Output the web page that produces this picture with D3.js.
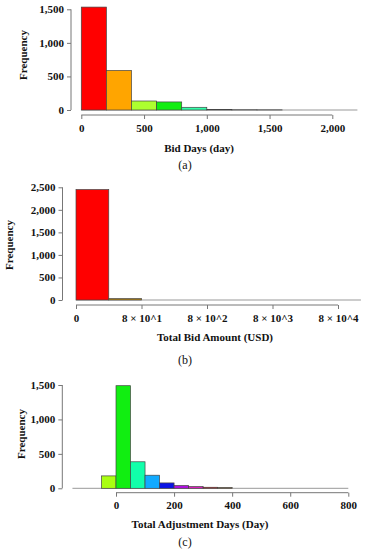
<!DOCTYPE html>
<html><head><meta charset="utf-8">
<script src="https://cdn.jsdelivr.net/npm/d3@7"></script>
<style>body{margin:0;background:#fff}svg{display:block}</style>
</head><body>
<script>
// ---- Data ----
// (a) Bid Days histogram, bin width 200
const aEdges = [0,200,400,600,800,1000,1200,1400,1600,1800,2000,2200];
const aCounts = [1533,589,134,120,40,8,3,2,0,0,0];
const aColors = ["#FF0000","#FFA500","#ADFF2F","#11EE11","#33FFAA","#1F7090","#555555","#555555","#AAAAAA","#AAAAAA","#AAAAAA"];
const aXTicks = [0,500,1000,1500,2000];
const aYTicks = [0,500,1000,1500];

// (b) Total Bid Amount histogram (decade-index axis)
const bEdges = [0,0.5,1,1.5,2,2.5,3,3.5,4,4.35];
const bCounts = [2450,30,0,0,0,0,0,0,0];
const bColors = ["#FF0000","#B8860B","#AAAAAA","#AAAAAA","#AAAAAA","#AAAAAA","#AAAAAA","#AAAAAA","#AAAAAA"];
const bXTicks = [0,1,2,3,4];
const bXLabels = ["0","8 \u00d7 10^1","8 \u00d7 10^2","8 \u00d7 10^3","8 \u00d7 10^4"];
const bYTicks = [0,500,1000,1500,2000,2500];

// (c) Total Adjustment Days histogram, bin width 50
const cEdges = [-150,-100,-50,0,50,100,150,200,250,300,350,400,450,500,550,600,650,700,750,800];
const cCounts = [0,0,180,1490,385,190,78,40,25,15,10,0,0,0,0,0,0,0,0];
const cColors = ["#AAAAAA","#AAAAAA","#AAFF11","#11EE11","#11FFAA","#11AAFF","#0A14E6","#B010E0","#E020C0","#E01010","#C08020","#AAAAAA","#AAAAAA","#AAAAAA","#AAAAAA","#AAAAAA","#AAAAAA","#AAAAAA","#AAAAAA"];
const cXTicks = [0,200,400,600,800];
const cYTicks = [0,500,1000,1500];

const svg = d3.select("body").append("svg").attr("width",370).attr("height",550);
const FONT = "'Liberation Serif','Times New Roman',serif";
const fmt = d3.format(",");

function panel(o){
  const g = svg.append("g");
  const x = d3.scaleLinear().domain(o.xDom).range(o.xRange);
  const y = d3.scaleLinear().domain(o.yDom).range(o.yRange);
  const bins = o.counts.map((c,i)=>({x0:o.edges[i],x1:o.edges[i+1],c,col:o.colors[i]}));
  // baseline
  g.append("line").attr("x1",x(o.edges[0])).attr("x2",x(o.edges[o.edges.length-1]))
    .attr("y1",y(0)).attr("y2",y(0)).attr("stroke","#999").attr("stroke-width",1);
  g.selectAll("rect.bar").data(bins.filter(d=>d.c>0)).join("rect").attr("class","bar")
    .attr("x",d=>x(d.x0)).attr("width",d=>x(d.x1)-x(d.x0))
    .attr("y",d=>y(d.c)).attr("height",d=>y(0)-y(d.c))
    .attr("fill",d=>d.col).attr("stroke","#444").attr("stroke-width",0.7);
  // y axis
  const yAx = g.append("g").attr("transform",`translate(${o.yAxisX},0)`)
    .call(d3.axisLeft(y).tickValues(o.yTicks).tickFormat(fmt).tickSize(4).tickPadding(3));
  // x axis
  const xAx = g.append("g").attr("transform",`translate(0,${o.xAxisY})`)
    .call(d3.axisBottom(x).tickValues(o.xTicks).tickFormat((d,i)=>o.xLabels?o.xLabels[i]:fmt(d)).tickSize(4).tickPadding(5));
  xAx.select(".domain").attr("d",`M${x(o.xTicks[0])},0V0H${x(o.xTicks[o.xTicks.length-1])}V0`);
  yAx.select(".domain").attr("d",`M0,${y(o.yTicks[0])}H0V${y(o.yTicks[o.yTicks.length-1])}H0`);
  [xAx,yAx].forEach(a=>{
    a.selectAll(".domain, .tick line").attr("stroke","#777");
    a.selectAll("text").attr("font-family",FONT).attr("font-weight","bold").attr("font-size",11).attr("fill","#111");
  });
  g.append("text").attr("transform",`translate(${o.yLabX},${o.yLabY}) rotate(-90)`)
    .attr("text-anchor","middle").attr("font-family",FONT).attr("font-weight","bold")
    .attr("font-size",11).attr("fill","#111").text("Frequency");
  g.append("text").attr("x",o.titleX).attr("y",o.titleY).attr("text-anchor","middle")
    .attr("font-family",FONT).attr("font-weight","bold").attr("font-size",11).attr("fill","#111").text(o.title);
  g.append("text").attr("x",185).attr("y",o.capY).attr("text-anchor","middle")
    .attr("font-family",FONT).attr("font-size",12).attr("fill","#111").text(o.cap);
}

panel({edges:aEdges,counts:aCounts,colors:aColors,xDom:[0,2000],xRange:[81.3,332.3],
  yDom:[0,1500],yRange:[110,9.3],xTicks:aXTicks,yTicks:aYTicks,yAxisX:71,xAxisY:115,
  yLabX:27,yLabY:55,title:"Bid Days (day)",titleX:199,titleY:152,cap:"(a)",capY:169});

panel({edges:bEdges,counts:bCounts,colors:bColors,xDom:[0,4],xRange:[76,338],
  yDom:[0,2500],yRange:[300,187.3],xTicks:bXTicks,xLabels:bXLabels,yTicks:bYTicks,yAxisX:62.5,xAxisY:305,
  yLabX:13,yLabY:245,title:"Total Bid Amount (USD)",titleX:215,titleY:340.5,cap:"(b)",capY:364});

panel({edges:cEdges,counts:cCounts,colors:cColors,xDom:[0,800],xRange:[116,348.3],
  yDom:[0,1500],yRange:[488.3,385],xTicks:cXTicks,yTicks:cYTicks,yAxisX:62.3,xAxisY:492.7,
  yLabX:25,yLabY:434,title:"Total Adjustment Days (Day)",titleX:200,titleY:528,cap:"(c)",capY:546});
</script>
</body></html>
